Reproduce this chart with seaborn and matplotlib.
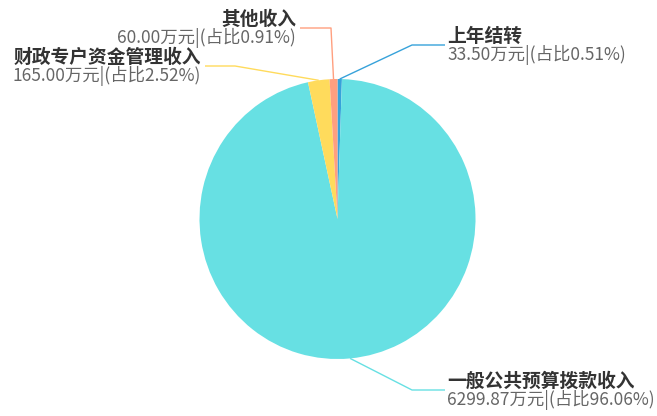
import matplotlib
matplotlib.use("Agg")
import matplotlib.pyplot as plt
from matplotlib.transforms import Affine2D
import numpy as np
import seaborn as sns

# Revenue sources (万元), drawn clockwise from 12 o'clock
names = ["上年结转", "一般公共预算拨款收入", "财政专户资金管理收入", "其他收入"]
amounts = [33.50, 6299.87, 165.00, 60.00]
colors = ["#37A2DA", "#67E0E3", "#FFDB5C", "#FF9F7F"]

sns.set_theme(style="white")
plt.rcParams["font.family"] = ["Noto Sans CJK SC", "DejaVu Sans"]

W, H = 657, 416
fig = plt.figure(figsize=(W / 100, H / 100), dpi=100)
ax = fig.add_axes([0, 0, 1, 1])

cx, cy = 337.5, 219.0   # pie centre (pixel space, y downwards)
rx, ry = 138.0, 140.0

palette = sns.color_palette(colors)
wedges, _ = ax.pie(amounts, colors=palette, startangle=270, counterclock=True,
                   radius=ry, center=(cx, cy),
                   wedgeprops=dict(linewidth=0))
squash = Affine2D().translate(-cx, -cy).scale(rx / ry, 1.0).translate(cx, cy)
for w in wedges:
    w.set_transform(squash + ax.transData)

ax.set_aspect("auto")
ax.set_xlim(0, W)
ax.set_ylim(H, 0)
ax.axis("off")

total = sum(amounts)
shares = [a / total * 100 for a in amounts]

# label layout: (elbow x, elbow y, line end x, side)
layout = {
    "上年结转": (412, 45, 445, "right"),
    "一般公共预算拨款收入": (412, 390, 445, "right"),
    "财政专户资金管理收入": (235, 66, 205, "left"),
    "其他收入": (331, 28, 300, "left"),
}

for w, name, amt, pct, col in zip(wedges, names, amounts, shares, colors):
    mid = np.deg2rad((w.theta1 + w.theta2) / 2)
    sx = cx + rx * np.cos(mid)
    sy = cy + ry * np.sin(mid)
    ex, ey, tx, side = layout[name]
    ax.plot([sx, ex, tx], [sy, ey, ey], color=col, lw=1.0,
            solid_capstyle="butt", zorder=1)
    if side == "right":
        x, ha = tx + 2, "left"
    else:
        x, ha = tx - 4, "right"
    ax.text(x, ey - 9, name, ha=ha, va="center", fontsize=13.5,
            fontweight="bold", color="#333333")
    ax.text(x, ey + 9.5, f"{amt:.2f}万元|(占比{pct:.2f}%)", ha=ha,
            va="center", fontsize=12.5, color="#666666")

fig.savefig("out.png", dpi=100, facecolor="white")
